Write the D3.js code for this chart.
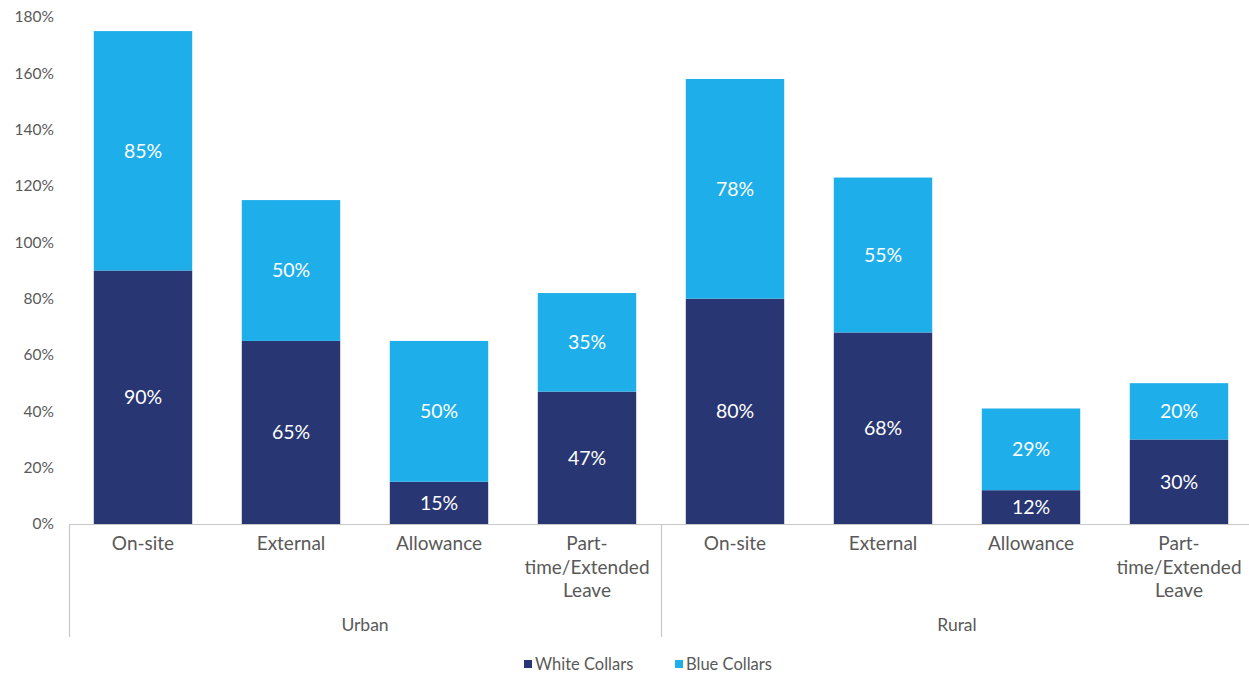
<!DOCTYPE html>
<html>
<head>
<meta charset="utf-8">
<script src="https://cdn.jsdelivr.net/npm/d3@7/dist/d3.min.js"></script>
<style>
  html, body { margin: 0; padding: 0; background: #fff; }
  svg { display: block; font-family: Lato, "Open Sans", sans-serif; }
</style>
</head>
<body>
<svg id="chart" width="1249" height="677"></svg>
<script>
// Data
const groups = ["Urban", "Rural"];
const categories = ["On-site", "External", "Allowance", "Part-time/Extended Leave"];
const categoryLines = [["On-site"], ["External"], ["Allowance"], ["Part-", "time/Extended", "Leave"]];
const seriesNames = ["White Collars", "Blue Collars"];
const whiteCollars = [90, 65, 15, 47, 80, 68, 12, 30];
const blueCollars = [85, 50, 50, 35, 78, 55, 29, 20];
const yTicks = [0, 20, 40, 60, 80, 100, 120, 140, 160, 180];

const colors = { "White Collars": "#283673", "Blue Collars": "#1eaeea" };
const textGray = "#595959";

const svg = d3.select("#chart");
const margin = { left: 69, right: -4, top: 17, bottom: 153 };
const W = 1249, H = 677;
const plotBottom = H - margin.bottom; // 524

const rows = [];
groups.forEach((g, gi) => categories.forEach((c, ci) => {
  const i = gi * categories.length + ci;
  rows.push({ key: g + "|" + c, group: g, gi, ci, "White Collars": whiteCollars[i], "Blue Collars": blueCollars[i] });
}));

const x = d3.scaleBand()
  .domain(rows.map(d => d.key))
  .range([margin.left, W - margin.right])
  .paddingInner(0.335)
  .paddingOuter(0.1675);

const y = d3.scaleLinear().domain([0, 180]).range([plotBottom, margin.top]);

// Y axis tick labels
const yAxis = d3.axisLeft(y).tickValues(yTicks).tickFormat(d => d + "%").tickSize(0).tickPadding(15);
const yg = svg.append("g").attr("transform", `translate(${margin.left},0)`).call(yAxis);
yg.select(".domain").remove();
yg.selectAll("text").attr("fill", textGray).style("font-size", "15.5px").style("font-family", "Lato, sans-serif");

// Stacked bars
const stack = d3.stack().keys(seriesNames);
const stacked = stack(rows);

const layers = svg.append("g").selectAll("g").data(stacked).join("g")
  .attr("fill", d => colors[d.key]);

layers.selectAll("rect").data(d => d.map(v => ({ v, key: d.key })))
  .join("rect")
  .attr("x", d => x(d.v.data.key))
  .attr("width", x.bandwidth())
  .attr("y", d => y(d.v[1]))
  .attr("height", d => y(d.v[0]) - y(d.v[1]));

// Value labels
layers.selectAll("text").data(d => d.map(v => ({ v, key: d.key })))
  .join("text")
  .attr("x", d => x(d.v.data.key) + x.bandwidth() / 2)
  .attr("y", d => (y(d.v[0]) + y(d.v[1])) / 2)
  .attr("dy", "0.35em")
  .attr("text-anchor", "middle")
  .attr("fill", "#ffffff")
  .style("font-size", "19.5px")
  .text(d => d.v.data[d.key] + "%");

// Category axis line and group separators
const axisColor = "#c8c8c8";
svg.append("line")
  .attr("x1", margin.left).attr("x2", W)
  .attr("y1", plotBottom + 0.5).attr("y2", plotBottom + 0.5)
  .attr("stroke", axisColor).attr("stroke-width", 1.2);

const groupStep = x.step() * categories.length;
const sepXs = [margin.left, margin.left + groupStep];
svg.selectAll("line.sep").data(sepXs).join("line")
  .attr("class", "sep")
  .attr("x1", d => d + 0.5).attr("x2", d => d + 0.5)
  .attr("y1", plotBottom).attr("y2", 637)
  .attr("stroke", axisColor).attr("stroke-width", 1.2);

// Category labels
const catG = svg.append("g").selectAll("text").data(rows).join("text")
  .attr("x", d => x(d.key) + x.bandwidth() / 2)
  .attr("y", plotBottom + 26)
  .attr("text-anchor", "middle")
  .attr("fill", textGray)
  .style("font-size", "19px");
catG.selectAll("tspan").data(d => categoryLines[d.ci].map(t => ({ t, x: x(d.key) + x.bandwidth() / 2 })))
  .join("tspan")
  .attr("x", d => d.x)
  .attr("dy", (d, i) => i === 0 ? 0 : 23.5)
  .text(d => d.t);

// Group labels
svg.append("g").selectAll("text").data(groups).join("text")
  .attr("x", (d, i) => margin.left + groupStep * i + groupStep / 2)
  .attr("y", 631)
  .attr("text-anchor", "middle")
  .attr("fill", textGray)
  .style("font-size", "17.5px")
  .text(d => d);

// Legend
const legend = svg.append("g");
const legendItems = [{ name: seriesNames[0], x: 524 }, { name: seriesNames[1], x: 675 }];
legendItems.forEach(it => {
  legend.append("rect").attr("x", it.x).attr("y", 660).attr("width", 8).attr("height", 8).attr("fill", colors[it.name]);
  legend.append("text").attr("x", it.x + 11).attr("y", 664).attr("dy", "0.35em")
    .attr("fill", textGray).style("font-size", "16.5px").text(it.name);
});
</script>
</body>
</html>
